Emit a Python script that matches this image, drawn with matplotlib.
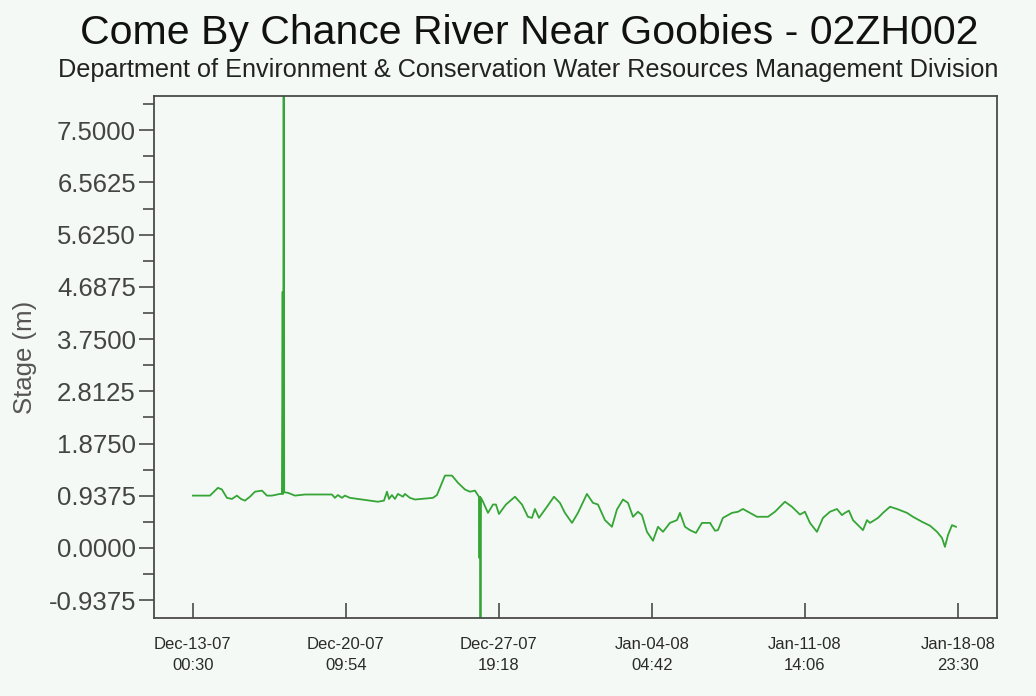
import matplotlib
matplotlib.use("Agg")
import matplotlib.pyplot as plt
from matplotlib.ticker import MultipleLocator, FormatStrFormatter
import pandas as pd

plt.rcParams["font.family"] = ["Liberation Sans", "DejaVu Sans"]

TITLE = "Come By Chance River Near Goobies - 02ZH002"
SUBTITLE = "Department of Environment & Conservation Water Resources Management Division"
START = pd.Timestamp("2007-12-13 00:30")

# hours since the first reading, and the stage (m) at that time
hours = [0.0, 19.7, 29.0, 33.6, 39.4, 45.2, 51.0, 55.7, 60.3, 66.1,
         71.9, 80.0, 85.8, 91.6, 100.9, 103.2, 104.0, 104.6, 105.2, 105.8,
         110.2, 118.3, 129.9, 161.2, 164.6, 168.1, 172.8, 176.2, 182.0, 196.0,
         214.5, 221.5, 225.0, 227.3, 230.7, 234.2, 237.7, 243.5, 245.8, 251.6,
         257.4, 278.3, 282.9, 292.2, 300.3, 307.3, 315.4, 321.2, 327.0, 331.6,
         332.2, 332.8, 333.4, 334.0, 336.3, 342.1, 347.9, 351.3, 354.8, 362.9,
         373.4, 381.5, 388.4, 393.1, 396.5, 401.2, 410.5, 418.6, 425.5, 431.3,
         439.5, 446.4, 456.8, 463.8, 469.6, 477.7, 485.8, 491.6, 498.6, 504.4,
         510.2, 516.0, 520.6, 526.4, 533.4, 539.2, 545.0, 553.1, 561.2, 564.7,
         570.5, 576.3, 583.2, 590.2, 599.5, 605.3, 608.7, 614.5, 625.0, 631.9,
         637.7, 645.8, 654.0, 666.7, 674.8, 686.4, 694.5, 703.8, 709.6, 715.4,
         723.5, 730.5, 738.6, 746.7, 752.5, 756.0, 760.6, 765.3, 771.1, 776.9,
         781.5, 785.0, 794.3, 800.1, 808.2, 816.3, 827.9, 834.8, 845.3, 854.6,
         862.7, 868.5, 871.9, 875.4, 880.1, 884.7]
stage = [0.94, 0.94, 1.08, 1.05, 0.90, 0.88, 0.94, 0.88, 0.85, 0.92,
         1.01, 1.03, 0.94, 0.94, 0.97, 0.97, 4.60, 0.97, 9.40, 1.00,
         0.99, 0.94, 0.96, 0.96, 0.90, 0.95, 0.90, 0.94, 0.90, 0.87,
         0.83, 0.85, 1.01, 0.88, 0.95, 0.88, 0.97, 0.92, 0.97, 0.90,
         0.87, 0.90, 0.95, 1.30, 1.30, 1.17, 1.05, 1.01, 1.03, 0.92,
         -0.18, 0.92, -1.60, 0.90, 0.83, 0.63, 0.78, 0.78, 0.61, 0.78,
         0.92, 0.78, 0.56, 0.54, 0.70, 0.54, 0.74, 0.92, 0.81, 0.63,
         0.45, 0.63, 0.97, 0.81, 0.78, 0.50, 0.38, 0.69, 0.87, 0.81,
         0.56, 0.65, 0.59, 0.29, 0.13, 0.38, 0.29, 0.45, 0.50, 0.63,
         0.38, 0.32, 0.27, 0.45, 0.45, 0.31, 0.32, 0.54, 0.63, 0.65,
         0.70, 0.63, 0.56, 0.56, 0.65, 0.83, 0.74, 0.60, 0.65, 0.45,
         0.29, 0.54, 0.65, 0.70, 0.59, 0.63, 0.67, 0.50, 0.41, 0.32,
         0.50, 0.45, 0.54, 0.63, 0.74, 0.70, 0.63, 0.56, 0.47, 0.40,
         0.29, 0.18, 0.02, 0.23, 0.41, 0.38]

tick_times = ["2007-12-13 00:30", "2007-12-20 09:54", "2007-12-27 19:18",
              "2008-01-04 04:42", "2008-01-11 14:06", "2008-01-18 23:30"]
tick_labels = ["Dec-13-07\n00:30", "Dec-20-07\n09:54", "Dec-27-07\n19:18",
               "Jan-04-08\n04:42", "Jan-11-08\n14:06", "Jan-18-08\n23:30"]

BG = "#f4f9f6"
AXIS = "#4a4a4a"

t = START + pd.to_timedelta(hours, unit="h")
ticks = pd.to_datetime(tick_times)
margin = pd.Timedelta(hours=45.2)

fig = plt.figure(figsize=(10.36, 6.96), dpi=100, facecolor=BG)
ax = fig.add_axes([0.1486, 0.1121, 0.8137, 0.75], facecolor=BG)

ax.plot(t, stage, color="#35a535", lw=1.3)

ax.set_xlim(ticks[0] - margin, ticks[-1] + margin)
ax.set_ylim(-1.257, 8.115)

ax.set_xticks(ticks)
ax.set_xticklabels(tick_labels, fontsize=12, color="#2a2a2a", linespacing=1.45)
ax.tick_params(axis="x", direction="in", length=11, width=1.2,
               color=AXIS, pad=14)

ax.yaxis.set_major_locator(MultipleLocator(0.9375))
ax.yaxis.set_minor_locator(MultipleLocator(0.46875))
ax.yaxis.set_major_formatter(FormatStrFormatter("%.4f"))
ax.tick_params(axis="y", which="major", direction="out", length=11,
               width=1.2, color=AXIS, labelsize=18.5, labelcolor="#444444", pad=2)
ax.tick_params(axis="y", which="minor", direction="out", length=8,
               width=1.2, color=AXIS)

for s in ax.spines.values():
    s.set_color(AXIS)
    s.set_linewidth(1.3)

ax.set_ylabel("Stage (m)", fontsize=18.5, color="#555555", labelpad=8)

fig.text(0.511, 0.952, TITLE, ha="center", va="center", fontsize=29.5,
         color="#111111")
fig.text(0.510, 0.899, SUBTITLE, ha="center", va="center", fontsize=18.2,
         color="#222222")

fig.savefig("out.png", dpi=100, facecolor=BG)
